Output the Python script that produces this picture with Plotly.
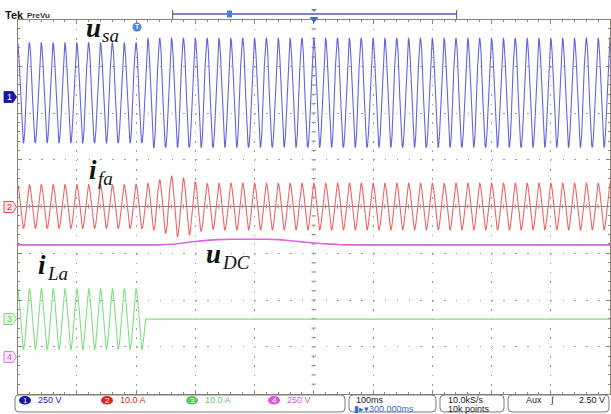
import numpy as np
import plotly.graph_objects as go

# ---------------- data read from the scope screen ----------------
# time base: 100 ms/div, 10 divisions -> 0 .. 1 s, 50 Hz mains
F_LINE = 50.0
T_END = 1.0

# per-cycle peak amplitudes (cycle k has its positive peak at t = k/50 s)
usa_amp_V = [268, 268, 268, 268, 268, 268, 268, 268, 268, 268,
             268, 292, 292, 292, 292, 292, 292, 292, 292, 292,
             292, 292, 292, 292, 292, 292, 292, 292, 292, 292,
             292, 292, 292, 292, 292, 292, 292, 292, 292, 292,
             292, 292, 292, 292, 292, 292, 292, 292, 292, 292]
ifa_amp_A = [4.7, 4.7, 4.7, 4.7, 4.7, 4.7, 4.7, 4.7, 4.7, 4.7,
             4.8, 5.0, 5.7, 6.5, 6.1, 5.3, 4.9, 5.0, 5.0, 5.0,
             5.0, 5.0, 5.0, 5.0, 5.0, 5.0, 5.0, 5.0, 5.0, 5.0,
             5.0, 5.0, 5.0, 5.0, 5.0, 5.0, 5.0, 5.0, 5.0, 5.0,
             5.0, 5.0, 5.0, 5.0, 5.0, 5.0, 5.0, 5.0, 5.0, 5.0]
ila_amp_A = [6.5, 6.5, 6.5, 6.5, 6.5, 6.5, 6.5, 6.5, 6.5, 6.5,
             6.5, 0.0, 0.0, 0.0, 0.0, 0.0, 0.0, 0.0, 0.0, 0.0,
             0.0, 0.0, 0.0, 0.0, 0.0, 0.0, 0.0, 0.0, 0.0, 0.0,
             0.0, 0.0, 0.0, 0.0, 0.0, 0.0, 0.0, 0.0, 0.0, 0.0,
             0.0, 0.0, 0.0, 0.0, 0.0, 0.0, 0.0, 0.0, 0.0, 0.0]
# DC-link voltage sampled once per cycle (t = k/50 s, k = 0..50)
udc_t = [k / 50 for k in range(51)]
udc_V = [600, 600, 600, 600, 600, 600, 600, 600, 600, 600,
         600, 600, 600, 603, 610, 618, 624, 628, 630, 630,
         630, 630, 628, 622, 616, 610, 605, 602, 600, 600,
         600, 600, 600, 600, 600, 600, 600, 600, 600, 600,
         600, 600, 600, 600, 600, 600, 600, 600, 600, 600, 600]

# channel settings (per division) and screen labels
ch_scale = [250, 10.0, 10.0, 250]
ch_scale_text = ["250 V", "10.0 A", "10.0 A", "250 V"]
time_div_text = "100ms"
delay_text = "300.000ms"
rate_text = ["10.0kS/s", "10k points"]
trig_text = ["Aux", "∫", "2.50 V"]
trace_labels = [("u", "sa"), ("i", "fa"), ("u", "DC"), ("i", "La")]

# ---------------- styling / layout constants ----------------
W, H = 611, 414
PL, PR, PT, PB = 17.5, 610.0, 19.5, 393.5
ch_offset_div = [2.43, 0.0, -2.41, -3.22]
ch_color = ["#6464e2", "#f06464", "#7fe07f", "#e064e0"]
ch_dark = ["#1414a0", "#e02424", "#5cc85c", "#dd55dd"]
FRAME = "#8c8276"
GRID = "#9a9a9a"


def px(X):
    return X / W


def py(Y):
    return 1 - Y / H


t = np.linspace(0, T_END, 8001)
k = np.clip(np.floor(t * F_LINE + 0.25).astype(int), 0, 49)
carrier = np.cos(2 * np.pi * F_LINE * t)


def wave(amps, ch):
    a = np.asarray(amps, dtype=float)[k]
    return ch_offset_div[ch] + a / ch_scale[ch] * carrier


fig = go.Figure()
fig.add_trace(go.Scatter(x=udc_t, y=[ch_offset_div[3] + v / ch_scale[3] for v in udc_V],
                         mode="lines", line=dict(color=ch_color[3], width=1.6, shape="spline"),
                         hoverinfo="skip"))
fig.add_trace(go.Scatter(x=t, y=wave(ila_amp_A, 2), mode="lines",
                         line=dict(color=ch_color[2], width=1.1), hoverinfo="skip"))
fig.add_trace(go.Scatter(x=t, y=wave(ifa_amp_A, 1), mode="lines",
                         line=dict(color=ch_color[1], width=1.1), hoverinfo="skip"))
fig.add_trace(go.Scatter(x=t, y=wave(usa_amp_V, 0), mode="lines",
                         line=dict(color=ch_color[0], width=1.1), hoverinfo="skip"))

shapes = []
# centre cross: horizontal solid line, vertical ticks
shapes.append(dict(type="line", xref="x", yref="y", x0=0, x1=1, y0=0, y1=0,
                   line=dict(color="#6e6e6e", width=0.9), layer="below"))
div_px_y = (PB - PT) / 8
div_px_x = (PR - PL) / 10
for i in range(1, 50):
    xv = i / 50
    shapes.append(dict(type="line", xref="x", yref="y", x0=xv, x1=xv,
                       y0=-2.2 / div_px_y, y1=2.2 / div_px_y,
                       line=dict(color="#8a8a8a", width=1), layer="below"))
for i in range(-19, 20):
    yv = i / 5
    shapes.append(dict(type="line", xref="x", yref="y", x0=0.5 - 2.2 / (PR - PL), x1=0.5 + 2.2 / (PR - PL),
                       y0=yv, y1=yv, line=dict(color="#8a8a8a", width=1), layer="below"))

# top bar
shapes.append(dict(type="line", xref="paper", yref="paper", x0=px(172.7), x1=px(456.7),
                   y0=py(14), y1=py(14), line=dict(color="#5656c4", width=1.5)))
for xe in (172.7, 456.7):
    shapes.append(dict(type="line", xref="paper", yref="paper", x0=px(xe), x1=px(xe),
                       y0=py(10), y1=py(19), line=dict(color="#555", width=1)))
shapes.append(dict(type="rect", xref="paper", yref="paper", x0=px(227), x1=px(232),
                   y0=py(17.5), y1=py(10.5), fillcolor="#4a80d8", line=dict(width=0)))
shapes.append(dict(type="path", xref="paper", yref="paper",
                   path=f"M {px(311)},{py(9)} L {px(317)},{py(9)} L {px(314)},{py(12)} Z",
                   fillcolor="#4a80d8", line=dict(width=0)))
shapes.append(dict(type="path", xref="paper", yref="paper",
                   path=f"M {px(309.5)},{py(17)} L {px(318.5)},{py(17)} L {px(314)},{py(23)} Z",
                   fillcolor="#3a70d0", line=dict(width=0)))
shapes.append(dict(type="circle", xref="paper", yref="paper", x0=px(132.5), x1=px(141.5),
                   y0=py(31.5), y1=py(22.5), fillcolor="#4a86dc", line=dict(width=0)))

annotations = []


def text(x, y, s, color="#222", size=9, anchor="left", weight="normal", style="normal",
         family="Liberation Sans"):
    annotations.append(dict(x=px(x), y=py(y), xref="paper", yref="paper", text=s,
                            showarrow=False, xanchor=anchor, yanchor="middle",
                            font=dict(size=size, color=color, family=family,
                                      weight=weight, style=style)))


# channel markers on the left
marker_y = [97, 207, 319, 357]
marker_fill = ["#1818a8", "#ffe6e6", "#e6ffe6", "#ffe6ff"]
marker_text = ["#ffffff", "#e02424", "#5cc85c", "#dd55dd"]
for i, Y in enumerate(marker_y):
    shapes.append(dict(type="path", xref="paper", yref="paper",
                       path=(f"M {px(4)},{py(Y-5.5)} L {px(13)},{py(Y-5.5)} L {px(16.5)},{py(Y)} "
                             f"L {px(13)},{py(Y+5.5)} L {px(4)},{py(Y+5.5)} Z"),
                       fillcolor=marker_fill[i], line=dict(color=ch_dark[i], width=0.8)))
    text(9.5, Y, str(i + 1), color=marker_text[i], size=9, anchor="center")


def rbox(x0, x1, y0, y1, r=4):
    p = (f"M {px(x0 + r)},{py(y0)} L {px(x1 - r)},{py(y0)} "
         f"Q {px(x1)},{py(y0)} {px(x1)},{py(y0 + r)} L {px(x1)},{py(y1 - r)} "
         f"Q {px(x1)},{py(y1)} {px(x1 - r)},{py(y1)} L {px(x0 + r)},{py(y1)} "
         f"Q {px(x0)},{py(y1)} {px(x0)},{py(y1 - r)} L {px(x0)},{py(y0 + r)} "
         f"Q {px(x0)},{py(y0)} {px(x0 + r)},{py(y0)} Z")
    return dict(type="path", xref="paper", yref="paper", path=p,
                line=dict(color="#7a7a7a", width=1), fillcolor="rgba(0,0,0,0)")


# status bar
shapes += [rbox(15, 345, 395, 412), rbox(349, 436, 395, 412), rbox(440, 504, 395, 412),
           rbox(508, 609, 395, 412)]
circ_x = [25, 107, 192, 274]
text_x = [36, 118, 203, 285]
for i in range(4):
    shapes.append(dict(type="circle", xref="paper", yref="paper", x0=px(circ_x[i] - 6),
                       x1=px(circ_x[i] + 6), y0=py(404.5), y1=py(396),
                       fillcolor=ch_dark[i], line=dict(width=0)))
    text(circ_x[i], 400.3, str(i + 1), color="white", size=8, anchor="center")
    text(text_x[i], 400.3, ch_scale_text[i], color=ch_dark[i] if i != 0 else "#2424c0")

text(354, 400, time_div_text)
text(352, 409, "▮▸▾" + delay_text, color="#3a6ad0")
text(446, 400, rate_text[0])
text(446, 409, rate_text[1])
text(524, 400, trig_text[0])
text(548, 400, trig_text[1], style="italic")
text(607, 400, trig_text[2], anchor="right")
text(3, 14.5, "Tek", color="#111", size=11, weight="bold")
text(25, 15, "PreVu", color="#333", size=8, weight="bold")
text(137, 27, "T", color="white", size=7, anchor="center", weight="bold")

# trace labels: main symbol + subscript
label_pos = [(84, 28), (87, 170), (204, 254), (36, 265)]
main_w = {"u": 15.5, "i": 8.5}
for (main, sub), (X, Y) in zip(trace_labels, label_pos):
    text(X, Y, main, color="#111", size=27, weight="bold", style="italic",
         family="Liberation Serif")
    text(X + main_w[main], Y + 8, sub, color="#111", size=19, style="italic",
         family="Liberation Serif")

axis_common = dict(showticklabels=False, zeroline=False, showline=True, linecolor=FRAME,
                   linewidth=1, mirror="ticks", ticks="inside", ticklen=4, tickcolor=FRAME,
                   showgrid=True, gridcolor=GRID, gridwidth=1, fixedrange=True)
fig.update_layout(
    width=W, height=H, margin=dict(l=0, r=0, t=0, b=0),
    paper_bgcolor="white", plot_bgcolor="white", showlegend=False,
    xaxis=dict(domain=[px(PL), px(PR)], range=[0, T_END], tick0=0, dtick=0.1,
               griddash=f"1.5px,{div_px_y / 5 - 1.5:.2f}px",
               minor=dict(dtick=0.02, ticks="inside", ticklen=2, tickcolor=FRAME, showgrid=False),
               **axis_common),
    yaxis=dict(domain=[py(PB), py(PT)], range=[-4, 4], tick0=0, dtick=1,
               griddash=f"1.5px,{div_px_x / 5 - 1.5:.2f}px",
               minor=dict(dtick=0.2, ticks="inside", ticklen=2, tickcolor=FRAME, showgrid=False),
               **axis_common),
    shapes=shapes, annotations=annotations,
)
fig.write_html("out.html")
